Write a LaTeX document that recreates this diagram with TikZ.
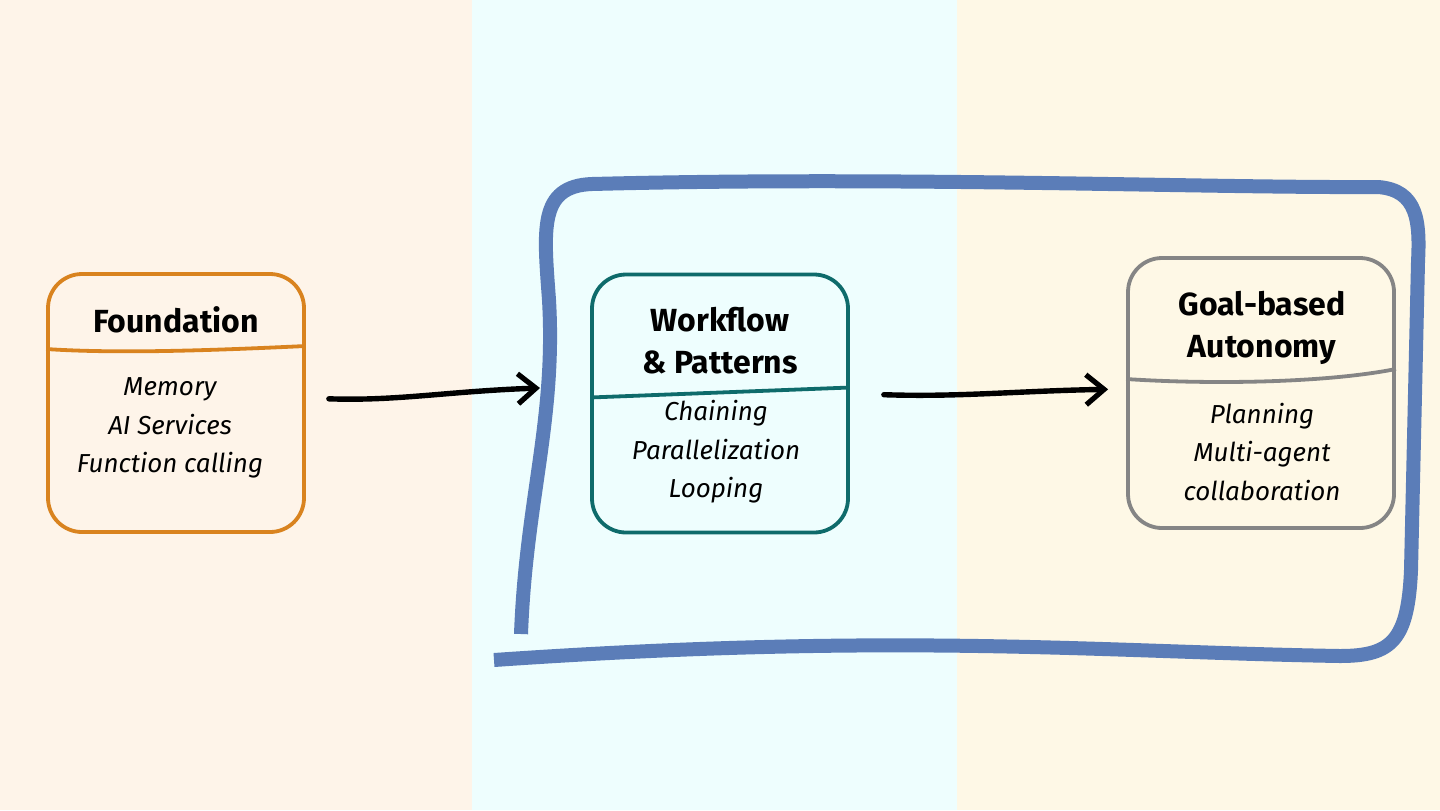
\documentclass[tikz,border=0pt]{standalone}
\usepackage{fontspec}
\setmainfont{Fira Sans}
\usetikzlibrary{arrows.meta}

\definecolor{bgpeach}{HTML}{FEF4E9}
\definecolor{bgcyan}{HTML}{EEFEFE}
\definecolor{bgyellow}{HTML}{FEF8E6}
\definecolor{frameblue}{HTML}{5B7DB8}
\definecolor{orangeline}{HTML}{D9831F}
\definecolor{tealline}{HTML}{0E6B6B}
\definecolor{grayline}{HTML}{858585}

\tikzset{
	stagebox/.style={draw, line width=1.9pt, rounded corners=17pt, minimum width=128pt, minimum height=129pt},
	titletext/.style={font=\bfseries\fontsize{16}{21}\selectfont, align=center},
	itemtext/.style={font=\itshape\fontsize{13}{19.3}\selectfont, align=center},
	flowarrow/.style={line width=2.7pt, line cap=round, -{Straight Barb[length=9pt,width=15pt,line width=2.6pt]}}
}

\begin{document}
\begin{tikzpicture}[x=0.5pt, y=-0.5pt]
\useasboundingbox (0,0) rectangle (1440,810);

% Fondo
	\fill[bgpeach] (0,0) rectangle (472,810);
	\fill[bgcyan] (472,0) rectangle (957,810);
	\fill[bgyellow] (957,0) rectangle (1440,810);

% Marco
	\draw[frameblue, line width=7pt, line join=round]
		(521,634) .. controls (526,500) and (556,420) .. (549,300)
		.. controls (544,230) and (538,186) .. (592,184)
		.. controls (900,176) and (1200,188) .. (1378,187)
		.. controls (1418,190) and (1420,222) .. (1418,262)
		-- (1411,570) .. controls (1408,640) and (1392,656) .. (1340,656)
		.. controls (1100,652) and (900,632) .. (494,660);

% Cajas
	\node[stagebox, orangeline] (found) at (176,403) {};
	\node[stagebox, tealline] (work) at (720,403.5) {};
	\node[stagebox, grayline, minimum width=133pt, minimum height=135pt] (goal) at (1261,393) {};

	\draw[orangeline, line width=1.9pt] ([yshift=27pt]found.west) .. controls (120,354) and (220,350) .. ([yshift=28.5pt]found.east);
	\draw[tealline, line width=1.9pt] ([yshift=3pt]work.west) -- ([yshift=8pt]work.east);
	\draw[grayline, line width=1.9pt] ([yshift=7pt]goal.west) .. controls (1200,384) and (1320,384) .. ([yshift=12pt]goal.east);

% Textos
	\node[titletext] (foundtitle) at (176,320) {Foundation};
	\node[titletext] (worktitle) at (720,341) {Workflow\\ \& Patterns};
	\node[titletext] (goaltitle) at (1262,328) {Goal-based\\Autonomy};

	\node[itemtext] (founditems) at (170,428) {Memory\\AI Services\\Function calling};
	\node[itemtext] (workitems) at (716,452) {Chaining\\Parallelization\\Looping};
	\node[itemtext] (goalitems) at (1262,452) {Planning\\Multi-agent\\collaboration};

% Flechas
	\coordinate (framein) at (540,388);
	\draw[flowarrow, shorten <=11.5pt] ([yshift=2.5pt]found.east) to[out=-2, in=182] (framein);
	\draw[flowarrow, shorten <=17pt, shorten >=9pt] ([yshift=5pt]work.east) to[out=-2, in=181] ([yshift=2pt]goal.west);
\end{tikzpicture}
\end{document}
